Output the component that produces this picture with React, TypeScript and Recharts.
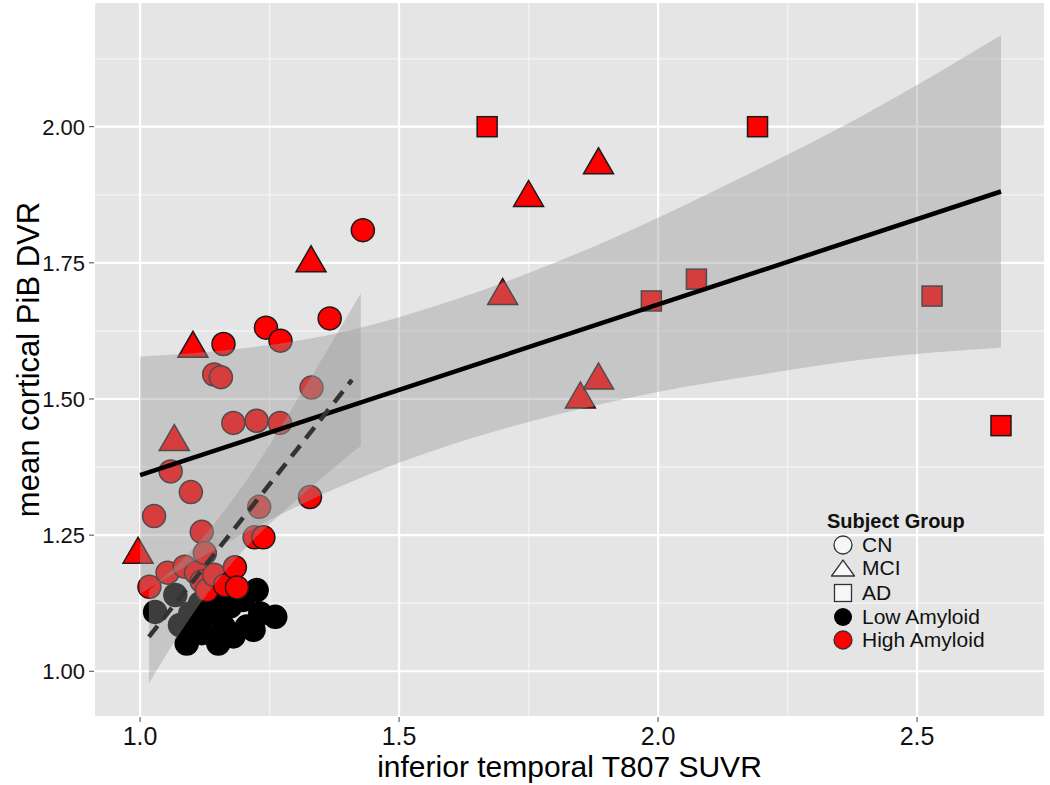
import { ComposedChart, Scatter, Area, Line, XAxis, YAxis, CartesianGrid } from 'recharts';

// axis ticks
const xTicks = [1.0, 1.5, 2.0, 2.5];
const yTicks = [1.0, 1.25, 1.5, 1.75, 2.0];
const xMinor = [1.25, 1.75, 2.25];
const yMinor = [1.125, 1.375, 1.625, 1.875, 2.125];

// points, [T807 SUVR, PiB DVR]
const cnLow: [number, number][] = [
  [1.029, 1.109], [1.068, 1.14], [1.077, 1.085], [1.09, 1.051], [1.097, 1.106],
  [1.105, 1.09], [1.116, 1.125], [1.119, 1.07], [1.135, 1.106], [1.148, 1.137],
  [1.151, 1.051], [1.161, 1.082], [1.174, 1.119], [1.18, 1.064], [1.199, 1.131],
  [1.206, 1.082], [1.219, 1.076], [1.225, 1.149], [1.232, 1.106], [1.261, 1.1],
];
const cnHigh: [number, number][] = [
  [1.027, 1.285], [1.018, 1.155], [1.053, 1.181], [1.059, 1.367], [1.086, 1.192],
  [1.098, 1.329], [1.108, 1.181], [1.119, 1.256], [1.119, 1.165], [1.125, 1.217],
  [1.129, 1.149], [1.143, 1.545], [1.143, 1.177], [1.156, 1.54], [1.161, 1.601],
  [1.164, 1.158], [1.18, 1.456], [1.183, 1.191], [1.187, 1.154], [1.221, 1.246],
  [1.225, 1.46], [1.23, 1.302], [1.238, 1.246], [1.243, 1.631], [1.27, 1.456],
  [1.271, 1.607], [1.328, 1.32], [1.331, 1.521], [1.366, 1.648], [1.43, 1.81],
];
const mci: [number, number][] = [
  [0.996, 1.215], [1.066, 1.422], [1.102, 1.593], [1.33, 1.75], [1.7, 1.69],
  [1.75, 1.87], [1.85, 1.5], [1.885, 1.93], [1.885, 1.535],
];
const ad: [number, number][] = [
  [1.67, 2.0], [1.987, 1.68], [2.074, 1.72], [2.192, 2.0], [2.529, 1.689], [2.662, 1.451],
];

// fit over all subjects (solid) and its band
const allFit = [[1.0, 1.36], [2.662, 1.881]];
const allBandX = [1.0, 1.2, 1.4, 1.6, 1.8, 2.0, 2.2, 2.4, 2.662];
const allBandLo = [1.142, 1.253, 1.345, 1.416, 1.47, 1.513, 1.545, 1.573, 1.594];
const allBandHi = [1.578, 1.593, 1.625, 1.68, 1.75, 1.833, 1.925, 2.023, 2.168];

// fit over CN subjects (dashed) and its band
const cnFit = [[1.017, 1.063], [1.409, 1.535]];
const cnBandX = [1.017, 1.1, 1.2, 1.3, 1.426];
const cnBandLo = [0.978, 1.103, 1.223, 1.313, 1.414];
const cnBandHi = [1.148, 1.223, 1.343, 1.493, 1.694];

// legend
const legendTitle = 'Subject Group';
const legendItems = ['CN', 'MCI', 'AD', 'Low Amyloid', 'High Amyloid'];

const pts = (arr: [number, number][]) => arr.map(([x, y]) => ({ x, y }));
const line = (arr: number[][]) => arr.map(([x, y]) => ({ x, y }));
const band = (xs: number[], lo: number[], hi: number[]) =>
  xs.map((x, i) => ({ x, band: [lo[i], hi[i]] }));

const FONT = '"Liberation Sans", Arial, Helvetica, sans-serif';
const RED = '#ff0000';
const EDGE = '#1a1a1a';

const dot = (fill: string, stroke: string) => (p: any) => (
  <circle cx={p.cx} cy={p.cy} r={11.5} fill={fill} stroke={stroke} strokeWidth={1.5} />
);
const tri = (p: any) => (
  <polygon
    points={`${p.cx - 15},${p.cy + 9} ${p.cx + 15},${p.cy + 9} ${p.cx},${p.cy - 17}`}
    fill={RED}
    stroke={EDGE}
    strokeWidth={1.5}
  />
);
const sq = (p: any) => (
  <rect x={p.cx - 10} y={p.cy - 10} width={20} height={20} fill={RED} stroke={EDGE} strokeWidth={1.5} />
);

const legendIcons = [
  <circle cx={12} cy={12} r={9} fill="#f7f7f7" stroke="#333" strokeWidth={1.3} />,
  <polygon points="0.5,20 23.5,20 12,4" fill="#f7f7f7" stroke="#333" strokeWidth={1.3} />,
  <rect x={3.5} y={3.5} width={17} height={17} fill="#f7f7f7" stroke="#333" strokeWidth={1.3} />,
  <circle cx={12} cy={12} r={9} fill="#000" />,
  <circle cx={12} cy={12} r={9} fill={RED} stroke="#333" strokeWidth={1.3} />,
];
const rowCenters = [545, 568, 593, 617, 640];

function LegendBox() {
  return (
    <div style={{ position: 'absolute', left: 0, top: 0, fontFamily: FONT, color: '#111' }}>
      <div style={{ position: 'absolute', left: 827, top: 508, height: 26, lineHeight: '26px', fontWeight: 'bold', fontSize: 20, whiteSpace: 'nowrap' }}>
        {legendTitle}
      </div>
      {legendItems.map((name, i) => (
        <div key={name}>
          <svg style={{ position: 'absolute', left: 831, top: rowCenters[i] - 12 }} width={24} height={24}>
            {legendIcons[i]}
          </svg>
          <div style={{ position: 'absolute', left: 862, top: rowCenters[i] - 12, height: 24, lineHeight: '24px', fontSize: 21, whiteSpace: 'nowrap' }}>
            {name}
          </div>
        </div>
      ))}
    </div>
  );
}

export default function App() {
  return (
    <div style={{ position: 'absolute', left: 0, top: 0, width: 1050, height: 785, background: '#fff' }}>
      <ComposedChart width={1050} height={785} margin={{ top: 2, right: 5, bottom: 0, left: 0 }}>
        <CartesianGrid
          fill="#e5e5e5"
          stroke="#f2f2f2"
          strokeWidth={1.5}
          horizontalValues={yMinor}
          verticalValues={xMinor}
        />
        <CartesianGrid stroke="#ffffff" strokeWidth={2.2} />
        <XAxis
          dataKey="x"
          type="number"
          domain={[0.911, 2.747]}
          allowDataOverflow
          ticks={xTicks}
          tickFormatter={(v: number) => v.toFixed(1)}
          axisLine={false}
          tickSize={5}
          tickMargin={5}
          tickLine={{ stroke: '#444' }}
          height={68}
          tick={{ fontSize: 25, fill: '#111', fontFamily: FONT }}
          label={{ value: 'inferior temporal T807 SUVR', position: 'insideBottom', offset: 8, style: { fontSize: 30, fill: '#000', fontFamily: FONT } }}
        />
        <YAxis
          dataKey="y"
          type="number"
          domain={[0.916, 2.229]}
          allowDataOverflow
          ticks={yTicks}
          tickFormatter={(v: number) => v.toFixed(2)}
          axisLine={false}
          tickSize={5}
          tickMargin={4}
          tickLine={{ stroke: '#444' }}
          width={94}
          tick={{ fontSize: 22, fill: '#111', fontFamily: FONT }}
          label={{ value: 'mean cortical PiB DVR', angle: -90, position: 'insideLeft', offset: 28, style: { textAnchor: 'middle', fontSize: 31, fill: '#000', fontFamily: FONT } }}
        />
        <Scatter data={pts(cnLow)} dataKey="y" shape={dot('#000', '#000')} isAnimationActive={false} zIndex={100} />
        <Scatter data={pts(cnHigh)} dataKey="y" shape={dot(RED, EDGE)} isAnimationActive={false} zIndex={100} />
        <Scatter data={pts(mci)} dataKey="y" shape={tri} isAnimationActive={false} zIndex={100} />
        <Scatter data={pts(ad)} dataKey="y" shape={sq} isAnimationActive={false} zIndex={100} />
        <Area
          data={band(allBandX, allBandLo, allBandHi)}
          dataKey="band"
          type="monotone"
          stroke="none"
          fill="#999999"
          fillOpacity={0.4}
          dot={false}
          activeDot={false}
          isAnimationActive={false}
          zIndex={200}
        />
        <Area
          data={band(cnBandX, cnBandLo, cnBandHi)}
          dataKey="band"
          type="monotone"
          stroke="none"
          fill="#999999"
          fillOpacity={0.4}
          dot={false}
          activeDot={false}
          isAnimationActive={false}
          zIndex={200}
        />
        <Line data={line(allFit)} dataKey="y" stroke="#000" strokeWidth={4.5} dot={false} activeDot={false} isAnimationActive={false} zIndex={300} />
        <Line data={line(cnFit)} dataKey="y" stroke="#333" strokeWidth={4.5} strokeDasharray="14 9" dot={false} activeDot={false} isAnimationActive={false} zIndex={300} />
      </ComposedChart>
      <LegendBox />
    </div>
  );
}
